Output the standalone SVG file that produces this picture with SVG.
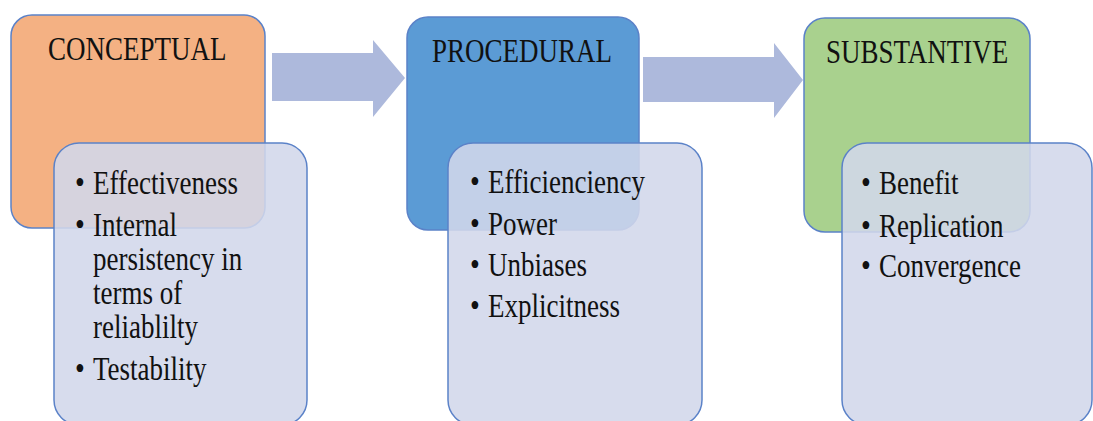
<svg xmlns="http://www.w3.org/2000/svg" width="1093" height="421" viewBox="0 0 1093 421">
  <style>
    .head { stroke: #5B82C8; stroke-width: 1.5; }
    .list { fill: #D2D7EB; fill-opacity: 0.88; stroke: #5B82C8; stroke-width: 1.5; }
    .arrow { fill: #ADB9DC; }
    text { font-family: "Liberation Serif", "Times New Roman", serif; font-size: 27px; fill: #111; }
    .dot { font-size: 28px; }
  </style>
  <rect width="1093" height="421" fill="#FFFFFF"/>

  <!-- connectors between stages -->
  <g id="connectors">
    <polygon class="arrow" points="272,53 373,53 373,40 405,78 373,117 373,101 272,101"/>
    <polygon class="arrow" points="643,57 774,57 774,43 803,80 774,118 774,102 643,102"/>
  </g>

  <!-- stage 1 -->
  <g id="conceptual">
    <rect class="head" x="11" y="15" width="254" height="213" rx="21" fill="#F4B183"/>
    <text transform="translate(48,60) scale(1,1.22)">CONCEPTUAL</text>
  </g>
  <g id="conceptual-items">
    <rect class="list" x="54" y="143" width="253" height="282" rx="25"/>
    <text class="dot" transform="translate(75,194) scale(1,1.22)">•</text>
    <text transform="translate(93,194) scale(1,1.22)">Effectiveness</text>
    <text class="dot" transform="translate(75,236) scale(1,1.22)">•</text>
    <text transform="translate(93,236) scale(1,1.22)">Internal</text>
    <text transform="translate(93,270) scale(1,1.22)">persistency in</text>
    <text transform="translate(93,304) scale(1,1.22)">terms of</text>
    <text transform="translate(93,338) scale(1,1.22)">reliablilty</text>
    <text class="dot" transform="translate(75,380) scale(1,1.22)">•</text>
    <text transform="translate(93,380) scale(1,1.22)">Testability</text>
  </g>

  <!-- stage 2 -->
  <g id="procedural">
    <rect class="head" x="407" y="17" width="232" height="213" rx="21" fill="#5B9BD5"/>
    <text transform="translate(432,62) scale(1,1.22)">PROCEDURAL</text>
  </g>
  <g id="procedural-items">
    <rect class="list" x="448" y="143" width="254" height="282" rx="25"/>
    <text class="dot" transform="translate(470,193) scale(1,1.22)">•</text>
    <text transform="translate(488,193) scale(1,1.22)">Efficienciency</text>
    <text class="dot" transform="translate(470,235) scale(1,1.22)">•</text>
    <text transform="translate(488,235) scale(1,1.22)">Power</text>
    <text class="dot" transform="translate(470,276) scale(1,1.22)">•</text>
    <text transform="translate(488,276) scale(1,1.22)">Unbiases</text>
    <text class="dot" transform="translate(470,317) scale(1,1.22)">•</text>
    <text transform="translate(488,317) scale(1,1.22)">Explicitness</text>
  </g>

  <!-- stage 3 -->
  <g id="substantive">
    <rect class="head" x="804" y="18" width="226" height="214" rx="21" fill="#A9D18E"/>
    <text transform="translate(826,63) scale(1,1.22)">SUBSTANTIVE</text>
  </g>
  <g id="substantive-items">
    <rect class="list" x="842" y="143" width="250" height="282" rx="25"/>
    <text class="dot" transform="translate(861,194) scale(1,1.22)">•</text>
    <text transform="translate(879,194) scale(1,1.22)">Benefit</text>
    <text class="dot" transform="translate(861,237) scale(1,1.22)">•</text>
    <text transform="translate(879,237) scale(1,1.22)">Replication</text>
    <text class="dot" transform="translate(861,277) scale(1,1.22)">•</text>
    <text transform="translate(879,277) scale(1,1.22)">Convergence</text>
  </g>
</svg>
